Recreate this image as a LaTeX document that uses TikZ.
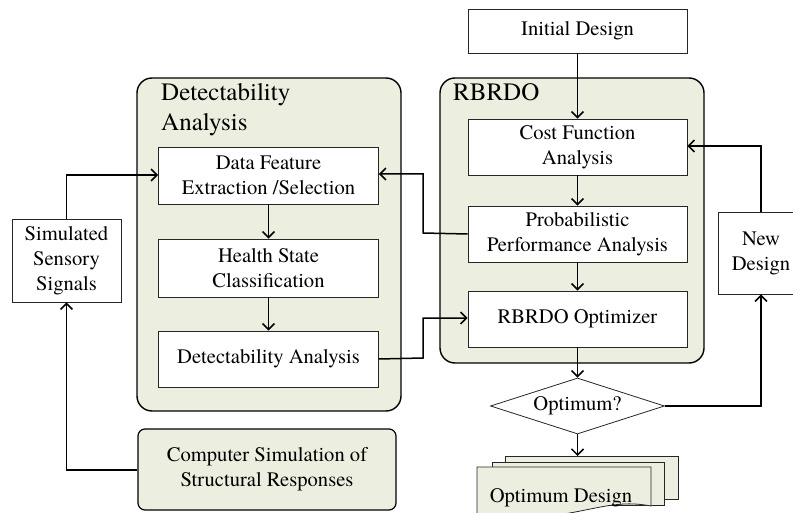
\documentclass[tikz,border=0pt]{standalone}
\usepackage{fontspec}
\setmainfont{TeX Gyre Termes}
\usetikzlibrary{arrows.meta,shapes.geometric}
\definecolor{panelgreen}{RGB}{236,239,224}
\begin{document}
\begin{tikzpicture}[x=1pt,y=-1pt,
  txt/.style={font=\rmfamily\fontsize{20.6}{25}\selectfont},
  procbox/.style={txt,draw=black!85,line width=0.8pt,fill=white,align=center,inner sep=0pt},
  panel/.style={draw=black,line width=1.4pt,fill=panelgreen,rounded corners=15pt},
  title/.style={font=\rmfamily\fontsize{25}{30}\selectfont,align=left,anchor=north west,inner sep=0pt},
  link/.style={line width=1.5pt,-{Straight Barb[length=6pt,width=12pt]}},
  page/.style={draw=black!85,line width=0.8pt,fill=panelgreen}]
\useasboundingbox (0,0) rectangle (793,513);
\clip (0,0) rectangle (793,513);

% grouping panels
\draw[panel] (137,78) rectangle (401,411);
\draw[panel] (440,78) rectangle (704,363);
\node[title] (dettitle) at (161,83) {Detectability\\Analysis};
\node[title] (rbtitle) at (453,83) {RBRDO};

% detectability chain
\node[procbox,minimum width=220pt,minimum height=57pt] (feat) at (268.5,175.5) {Data Feature\\Extraction /Selection};
\node[procbox,minimum width=220pt,minimum height=58pt] (health) at (268.5,268) {Health State\\Classification};
\node[procbox,minimum width=220pt,minimum height=56pt] (detan) at (268.5,359) {Detectability Analysis};

% RBRDO chain
\node[procbox,minimum width=219pt,minimum height=44pt] (init) at (577.5,31) {Initial Design};
\node[procbox,minimum width=219pt,minimum height=56pt] (cost) at (577.5,147) {Cost Function\\Analysis};
\node[procbox,minimum width=219pt,minimum height=56pt] (prob) at (577.5,234) {Probabilistic\\Performance Analysis};
\node[procbox,minimum width=219pt,minimum height=56pt] (opt) at (577.5,319) {RBRDO Optimizer};
\node[procbox,shape=diamond,aspect=3.1,minimum width=174pt,minimum height=56pt] (dec) at (577.5,406) {Optimum?};

% side boxes
\node[procbox,minimum width=109pt,minimum height=83pt] (sim) at (66.5,260.5) {Simulated\\Sensory\\Signals};
\node[procbox,minimum width=86pt,minimum height=82pt] (newd) at (761,253) {New\\Design};
\node[procbox,fill=panelgreen,draw=black,line width=1.2pt,rounded corners=7pt,minimum width=258pt,minimum height=81pt] (comp) at (267,469.5) {Computer Simulation of\\Structural Responses};

% stacked output documents
\draw[page] (505,456) rectangle (678,499);
\draw[page] (492,462) rectangle (664,505);
\draw[page] (477,467) -- (651,467) -- (651,506) .. controls (620,500) and (600,508) .. (564,514) .. controls (530,520) and (500,520) .. (477,516) -- cycle;
\node[txt,inner sep=0pt,anchor=base] (outd) at (561,502) {Optimum Design};
\coordinate (outtop) at (577.5,456);

% main flow
\draw[link] (init) -- (cost);
\draw[link] (cost) -- (prob);
\draw[link] (prob) -- (opt);
\draw[link] (opt) -- (dec.north);
\draw[link] (dec.south) -- (outtop);
\draw[link] (feat) -- (health);
\draw[link] (health) -- (detan);

% loops and cross links
\draw[link] (dec.east) -| (newd.south);
\draw[link] (newd.north) |- (cost.east |- 0,146);
\draw[link] (prob.west) -- (423,233) |- (feat.east |- 0,174);
\draw[link] (detan.east) -- (423,358) |- (opt.west |- 0,318);
\draw[link] (sim.north) |- (feat.west |- 0,175);
\draw[link] (comp.west |- 0,470) -| (sim.south);
\end{tikzpicture}
\end{document}
